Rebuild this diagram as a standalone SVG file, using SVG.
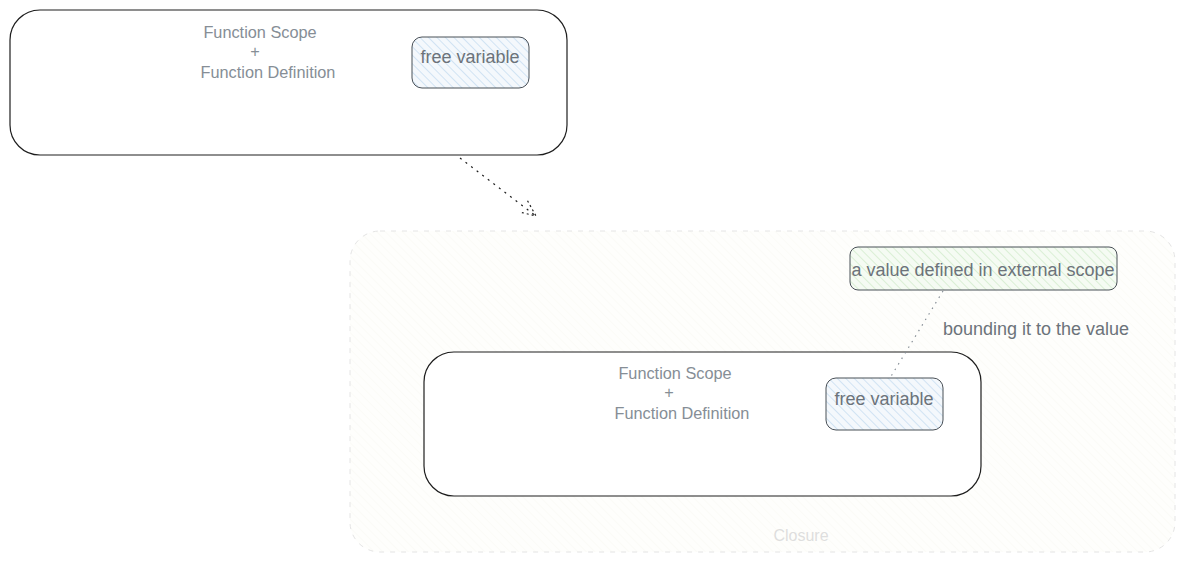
<svg xmlns="http://www.w3.org/2000/svg" width="1184" height="562" viewBox="0 0 1184 562">
<defs>
<pattern id="hBlue" width="6" height="6" patternUnits="userSpaceOnUse" patternTransform="rotate(-45)">
<rect width="6" height="6" fill="#f4f8fc"/><line x1="0" y1="0" x2="0" y2="6" stroke="#b9d6ee" stroke-width="1.2"/>
</pattern>
<pattern id="hGreen" width="6" height="6" patternUnits="userSpaceOnUse" patternTransform="rotate(-45)">
<rect width="6" height="6" fill="#f5fbf3"/><line x1="0" y1="0" x2="0" y2="6" stroke="#c8e8c2" stroke-width="1.2"/>
</pattern>
<pattern id="hCream" width="6" height="6" patternUnits="userSpaceOnUse" patternTransform="rotate(-45)">
<rect width="6" height="6" fill="#fefefc"/><line x1="0" y1="0" x2="0" y2="6" stroke="#f8f8f3" stroke-width="1"/>
</pattern>
<marker id="arr" markerWidth="20" markerHeight="16" refX="18" refY="8" orient="auto" markerUnits="userSpaceOnUse">
<path d="M2,1 L18,8 L2,15" fill="none" stroke="#1e1e1e" stroke-width="1.2" stroke-dasharray="2,3"/>
</marker>
</defs>
<style>
.t{font-family:"Liberation Sans",Arial,sans-serif;fill:#868e96;text-anchor:middle}
.s{font-size:16.3px}
.v{font-size:18px;fill:#6c737a}
.box{fill:#fff;stroke:#1e1e1e;stroke-width:1.2}
.fv{fill:url(#hBlue);stroke:#495057;stroke-width:1}
</style>
<g id="closure">
<rect x="350" y="231" width="825" height="321" rx="30" fill="url(#hCream)" stroke="#e4e4e4" stroke-width="1" stroke-dasharray="5,6"/>
<text class="t" x="801" y="541" font-size="16" style="fill:#dedede">Closure</text>
</g>
<g id="scope1">
<rect class="box" x="10" y="10" width="557" height="145" rx="30"/>
<text class="t s" x="260" y="38">Function Scope</text>
<text class="t s" x="255" y="57">+</text>
<text class="t s" x="268" y="78">Function Definition</text>
</g>
<g id="fv1">
<rect class="fv" x="412" y="37" width="117" height="51" rx="10"/>
<text class="t v" x="470" y="63">free variable</text>
</g>
<g id="external">
<rect x="850" y="247" width="267" height="43" rx="8" fill="url(#hGreen)" stroke="#495057" stroke-width="1"/>
<text class="t v" x="983" y="276">a value defined in external scope</text>
</g>
<g id="scope2">
<rect class="box" x="424" y="352" width="557" height="144" rx="30"/>
<text class="t s" x="675" y="379">Function Scope</text>
<text class="t s" x="669" y="398">+</text>
<text class="t s" x="682" y="419">Function Definition</text>
</g>
<g id="fv2">
<rect class="fv" x="826" y="378" width="117" height="52" rx="10"/>
<text class="t v" x="884" y="405">free variable</text>
</g>
<g id="connectors">
<line x1="460" y1="158" x2="536" y2="216" stroke="#1e1e1e" stroke-width="1.2" stroke-dasharray="2,5" marker-end="url(#arr)"/>
<line x1="943" y1="291" x2="890" y2="378" stroke="#868e96" stroke-width="1.2" stroke-dasharray="1.5,5"/>
<text class="t" x="1036" y="335" font-size="18" style="fill:#6c737a">bounding it to the value</text>
</g>
</svg>
